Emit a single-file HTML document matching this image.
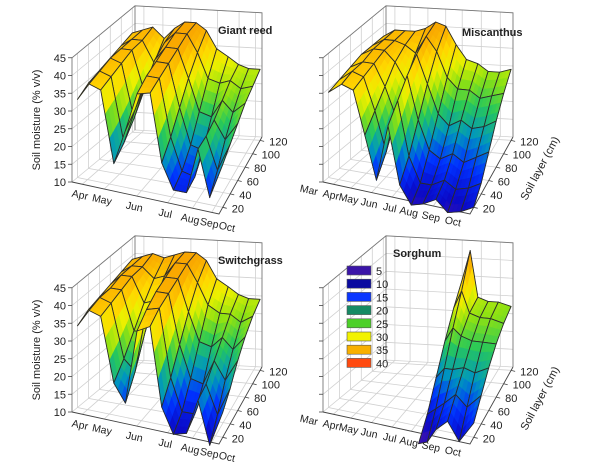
<!DOCTYPE html>
<html><head><meta charset="utf-8">
<style>
html,body{margin:0;padding:0;background:#fff;}
svg{display:block;font-family:"Liberation Sans",Arial,sans-serif;}
</style></head>
<body>
<svg id="chart" width="600" height="462" viewBox="0 0 600 462" xmlns="http://www.w3.org/2000/svg"></svg>
<script>
// ---- data ----
const depths = [20, 40, 60, 80, 100, 120];
const zTicks = [10, 15, 20, 25, 30, 35, 40, 45];
const depthTicks = [20, 40, 60, 80, 100, 120];
const legendValues = [5, 10, 15, 20, 25, 30, 35, 40];

const monthsGiant = ["Apr","May","Jun","Jul","Aug","Sep","Oct"];
const monthPosGiant = [0.07, 0.22, 0.44, 0.65, 0.82, 0.95, 1.07];
const monthsOther = ["Mar","Apr","May","Jun","Jul","Aug","Sep","Oct"];
const monthPosOther = [-0.08, 0.07, 0.19, 0.33, 0.47, 0.6, 0.75, 0.9];

const timesGiant = [0, 0.08, 0.16, 0.25, 0.33, 0.41, 0.5, 0.58, 0.66, 0.75, 0.83, 0.91, 1.0];
const moistGiant = [
 [32,34,35,36,37,38],
 [37,38,39,39,39,39],
 [36,37,38,39,39,40],
 [16,19,23,28,33,37],
 [26,29,33,37,39,40],
 [37,39,40,41,42,42],
 [38,39,40,41,42,42],
 [19,23,28,33,37,40],
 [12,14,18,24,30,35],
 [12,13,17,23,29,33],
 [25,25,26,28,30,31],
 [12,16,21,25,28,30],
 [22,24,26,28,29,30]
];

const timesMisc = [0, 0.09, 0.17, 0.25, 0.33, 0.41, 0.49, 0.57, 0.65, 0.74, 0.82, 0.91, 1.0];
const moistMisc = [
 [34,35,36,37,37,37],
 [37,38,38,39,39,39],
 [36,37,38,39,39,39],
 [24,28,32,36,38,39],
 [12,17,24,31,36,40],
 [28,32,36,39,41,42],
 [12,17,24,31,37,41],
 [7,10,16,23,30,36],
 [8,10,14,20,27,32],
 [10,12,16,22,27,31],
 [7,10,14,20,25,29],
 [8,11,16,21,26,29],
 [10,13,18,23,27,30]
];

const timesSwitch = [0, 0.08, 0.16, 0.25, 0.33, 0.41, 0.5, 0.58, 0.66, 0.75, 0.83, 0.91, 1.0];
const moistSwitch = [
 [33,35,36,37,38,39],
 [38,39,39,40,40,40],
 [37,38,39,40,40,41],
 [19,23,28,33,37,40],
 [14,20,28,34,38,41],
 [35,38,40,41,42,42],
 [37,39,40,41,42,42],
 [15,20,26,32,37,40],
 [8,11,17,24,31,35],
 [9,11,16,23,29,33],
 [19,20,23,26,29,31],
 [7,12,18,23,27,30],
 [17,20,24,27,29,30]
];

const timesSorg = [0.62, 0.68, 0.74, 0.82, 0.9, 1.0];
const moistSorg = [
 [5,10,17,24,30,35],
 [6,12,20,28,35,43],
 [10,14,20,26,29,30],
 [13,17,21,25,28,29],
 [8,14,20,25,28,29],
 [14,18,22,25,27,28]
];

// ---- geometry ----
const svg = document.getElementById('chart');
const NS = 'http://www.w3.org/2000/svg';
const BASE = {FL:[72,182], FR:[219,214], BR:[262,137], BL:[135,130]};
const ZS = 3.55, ZMIN = 10, ZMAX = 45;

function mk(tag, attrs, parent){
  const e = document.createElementNS(NS, tag);
  for (const k in attrs) e.setAttribute(k, attrs[k]);
  (parent||svg).appendChild(e);
  return e;
}
function makeProj(dx, dy){
  return function(u, d, z){
    const v = (d - 10) / 115;
    const fx = BASE.FL[0] + (BASE.FR[0]-BASE.FL[0])*u, fy = BASE.FL[1] + (BASE.FR[1]-BASE.FL[1])*u;
    const bx = BASE.BL[0] + (BASE.BR[0]-BASE.BL[0])*u, by = BASE.BL[1] + (BASE.BR[1]-BASE.BL[1])*u;
    const x = fx + (bx-fx)*v, y = fy + (by-fy)*v;
    return [x + dx, y + dy - (z - ZMIN)*ZS];
  };
}
const stops = [[5,[70,20,170]],[9,[10,10,200]],[14,[0,50,255]],[19,[0,150,190]],[24,[40,200,90]],[28,[140,225,20]],[32,[235,240,0]],[36,[255,215,0]],[40,[250,175,0]],[45,[245,150,0]]];
const legendColors = ['#3a14a8','#0a0aa0','#0a36ff','#168a64','#4cd028','#f2f200','#f8b000','#ff4a10'];
function color(z){
  if (z<=stops[0][0]) return 'rgb('+stops[0][1]+')';
  for (let i=1;i<stops.length;i++){
    if (z<=stops[i][0]){
      const a=stops[i-1], b=stops[i], f=(z-a[0])/(b[0]-a[0]);
      const c=a[1].map((v,k)=>Math.round(v+(b[1][k]-v)*f));
      return 'rgb('+c.join(',')+')';
    }
  }
  return 'rgb('+stops[stops.length-1][1]+')';
}
function pts(arr){ return arr.map(p=>p[0].toFixed(1)+','+p[1].toFixed(1)).join(' '); }

function drawPanel(cfg){
  const g = mk('g', {});
  
  
  const P = makeProj(cfg.dx, cfg.dy);
  const grid = mk('g', {stroke:'#d0d0d0','stroke-width':'0.8',fill:'none'}, g);
  
  
  zTicks.forEach(z=>{
    mk('polyline',{points:pts([P(0,10,z),P(0,125,z),P(1,125,z)])},grid);
  });
  cfg.monthPos.forEach(u=>{
    if(u<0||u>1) return;
    mk('polyline',{points:pts([P(u,10,ZMIN),P(u,125,ZMIN),P(u,125,ZMAX)])},grid);
  });
  depthTicks.forEach(d=>{
    mk('polyline',{points:pts([P(1,d,ZMIN),P(0,d,ZMIN),P(0,d,ZMAX)])},grid);
  });
  const fr = mk('g',{stroke:'#777','stroke-width':'0.9',fill:'none'},g);
  
  
  mk('polyline',{points:pts([P(0,10,ZMIN),P(0,10,ZMAX),P(0,125,ZMAX),P(1,125,ZMAX),P(1,125,ZMIN)])},fr);
  mk('polyline',{points:pts([P(0,125,ZMIN),P(0,125,ZMAX)])},fr);
  mk('polyline',{points:pts([P(0,10,ZMIN),P(1,10,ZMIN),P(1,125,ZMIN)]),stroke:'#444'},fr);
  zTicks.forEach(z=>{
    const p=P(0,10,z);
    mk('line',{x1:p[0]-4,y1:p[1],x2:p[0],y2:p[1],stroke:'#444','stroke-width':'0.8'},g);
    if(cfg.zLabels){
      const t=mk('text',{x:p[0]-6,y:p[1]+4,'text-anchor':'end','font-size':'11',fill:'#222'},g);
      t.textContent=z;
      
      
    }
  });
  depthTicks.forEach(d=>{
    const p=P(1,d,ZMIN);
    mk('line',{x1:p[0],y1:p[1],x2:p[0]+4,y2:p[1]+1,stroke:'#444','stroke-width':'0.8'},g);
    const t=mk('text',{x:p[0]+9,y:p[1]+5,'font-size':'11',fill:'#222'},g);
    t.textContent=d;
    
    
  });
  cfg.months.forEach((m,i)=>{
    const u=cfg.monthPos[i];
    const p=P(u,10,ZMIN);
    const t=mk('text',{x:p[0]-3,y:p[1]+14,'text-anchor':'middle','font-size':'10.5',fill:'#222',transform:'rotate(12 '+(p[0]-3)+' '+(p[1]+14)+')'},g);
    t.textContent=m;
    
    
  });
  if(cfg.zLabels){
    const x=cfg.dx+40, y=cfg.dy+120;
    const t=mk('text',{x:x,y:y,'text-anchor':'middle','font-size':'11',fill:'#222',transform:'rotate(-90 '+x+' '+y+')'},g);
    t.textContent='Soil moisture (% v/v)';
    
    
  }
  if(cfg.depthTitle){
    const x=cfg.dx+292, y=cfg.dy+170;
    const t=mk('text',{x:x,y:y,'text-anchor':'middle','font-size':'11',fill:'#222',transform:'rotate(-62 '+x+' '+y+')'},g);
    t.textContent='Soil layer (cm)';
    
    
  }
  const surf = mk('g',{},g);
  
  
  const T=cfg.times, M=cfg.values;
  const quads=[];
  for(let i=0;i<T.length-1;i++) for(let j=0;j<depths.length-1;j++){
    quads.push({i,j,key:(1-(T[i]+T[i+1])/2)*1.0 + ((depths[j]+depths[j+1])/2)/120*1.2});
  }
  quads.sort((a,b)=>b.key-a.key);
  const S=3;
  quads.forEach(q=>{
    const {i,j}=q;
    const z00=M[i][j], z10=M[i+1][j], z01=M[i][j+1], z11=M[i+1][j+1];
    const zf=(a,b)=>z00*(1-a)*(1-b)+z10*a*(1-b)+z01*(1-a)*b+z11*a*b;
    const uf=a=>T[i]+(T[i+1]-T[i])*a, df=b=>depths[j]+(depths[j+1]-depths[j])*b;
    for(let a=0;a<S;a++) for(let b=S-1;b>=0;b--){
      const a0=a/S,a1=(a+1)/S,b0=b/S,b1=(b+1)/S;
      const poly=[P(uf(a0),df(b0),zf(a0,b0)),P(uf(a1),df(b0),zf(a1,b0)),P(uf(a1),df(b1),zf(a1,b1)),P(uf(a0),df(b1),zf(a0,b1))];
      const c=color(zf((a0+a1)/2,(b0+b1)/2));
      mk('polygon',{points:pts(poly),fill:c,stroke:c,'stroke-width':'0.6'},surf);
    }
    const outline=[P(T[i],depths[j],z00),P(T[i+1],depths[j],z10),P(T[i+1],depths[j+1],z11),P(T[i],depths[j+1],z01)];
    const cell=mk('polygon',{points:pts(outline),fill:'none',stroke:'#2a2a2a','stroke-width':'0.9','stroke-linejoin':'round'},surf);
    
    
  });
  const tt=mk('text',{x:cfg.titleX,y:cfg.titleY,'font-size':'11','font-weight':'bold',fill:'#222'},g);
  tt.textContent=cfg.title;
  
  
}

drawPanel({name:'giant-reed-panel',title:'Giant reed',titleX:218,titleY:34,dx:0,dy:0,times:timesGiant,values:moistGiant,months:monthsGiant,monthPos:monthPosGiant,zLabels:true,depthTitle:false});
drawPanel({name:'miscanthus-panel',title:'Miscanthus',titleX:462,titleY:36,dx:251,dy:0,times:timesMisc,values:moistMisc,months:monthsOther,monthPos:monthPosOther,zLabels:false,depthTitle:true});
drawPanel({name:'switchgrass-panel',title:'Switchgrass',titleX:218,titleY:264,dx:0,dy:230,times:timesSwitch,values:moistSwitch,months:monthsGiant,monthPos:monthPosGiant,zLabels:true,depthTitle:false});
drawPanel({name:'sorghum-panel',title:'Sorghum',titleX:393,titleY:257,dx:251,dy:230,times:timesSorg,values:moistSorg,months:monthsOther,monthPos:monthPosOther,zLabels:false,depthTitle:true});

const lg=mk('g',{});


legendValues.forEach((v,k)=>{
  const y=266+k*13.2;
  const r=mk('rect',{x:347,y:y,width:24,height:9,fill:legendColors[k],stroke:'#555','stroke-width':'0.6'},lg);
  
  
  const t=mk('text',{x:376,y:y+9,'font-size':'11',fill:'#222'},lg);
  t.textContent=v;
  
  
});
</script>
</body></html>
